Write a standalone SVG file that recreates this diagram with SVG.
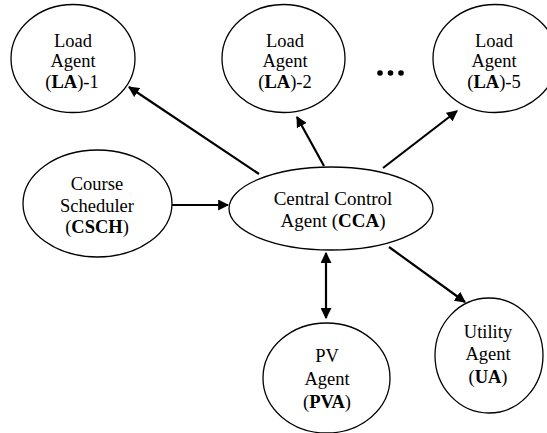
<svg xmlns="http://www.w3.org/2000/svg" width="547" height="433" viewBox="0 0 547 433">
<style>
.n{fill:#fff;stroke:#000;stroke-width:1.3}
.t{font-family:"Liberation Serif",serif;font-size:18.5px;fill:#000;text-anchor:middle}
.b{font-weight:bold}
.c{stroke:#000;stroke-width:2.2;fill:none;marker-end:url(#ah)}
</style>
<defs>
<marker id="ah" viewBox="0 0 10 10" refX="9" refY="5" markerWidth="5" markerHeight="5" orient="auto-start-reverse" markerUnits="strokeWidth">
<path d="M0,0 L10,5 L0,10 z" fill="#000"/>
</marker>
</defs>
<rect width="547" height="433" fill="#fff"/>
<g id="connectors">
<line class="c" x1="259" y1="174" x2="129" y2="87"/>
<line class="c" x1="324" y1="166" x2="297" y2="117"/>
<line class="c" x1="383" y1="168" x2="457" y2="111"/>
<line class="c" x1="172" y1="205" x2="228" y2="205"/>
<line class="c" x1="326" y1="253" x2="326" y2="318" marker-start="url(#ah)"/>
<line class="c" x1="389" y1="247" x2="465" y2="302"/>
</g>
<g id="la1"><ellipse class="n" cx="73" cy="58.5" rx="62" ry="54"/>
<text class="t" x="73" y="47">Load</text><text class="t" x="73" y="67">Agent</text><text class="t" x="72" y="88">(<tspan class="b">LA</tspan>)-1</text></g>
<g id="la2"><ellipse class="n" cx="283.5" cy="58.5" rx="61.5" ry="54"/>
<text class="t" x="285" y="47">Load</text><text class="t" x="285" y="67">Agent</text><text class="t" x="285" y="88">(<tspan class="b">LA</tspan>)-2</text></g>
<g id="dots"><circle cx="380" cy="73" r="2.8"/><circle cx="390.5" cy="73" r="2.8"/><circle cx="401" cy="73" r="2.8"/></g>
<g id="la5"><ellipse class="n" cx="495" cy="58.5" rx="62" ry="54"/>
<text class="t" x="494" y="47">Load</text><text class="t" x="494" y="67">Agent</text><text class="t" x="494" y="88">(<tspan class="b">LA</tspan>)-5</text></g>
<g id="csch"><ellipse class="n" cx="97.5" cy="203.5" rx="74.5" ry="53.5"/>
<text class="t" x="97" y="190">Course</text><text class="t" x="97" y="212">Scheduler</text><text class="t" x="97" y="233">(<tspan class="b">CSCH</tspan>)</text></g>
<g id="cca"><ellipse class="n" cx="331" cy="208.5" rx="102" ry="41.5"/>
<text class="t" x="333" y="205" style="font-size:19px">Central Control</text><text class="t" x="333" y="227" style="font-size:19px">Agent (<tspan class="b">CCA</tspan>)</text></g>
<g id="pva"><ellipse class="n" cx="326.5" cy="378" rx="63.5" ry="55"/>
<text class="t" x="327" y="362">PV</text><text class="t" x="327" y="385">Agent</text><text class="t" x="327" y="408">(<tspan class="b">PVA</tspan>)</text></g>
<g id="ua"><ellipse class="n" cx="489" cy="355.5" rx="54" ry="57.5"/>
<text class="t" x="488" y="338">Utility</text><text class="t" x="488" y="360">Agent</text><text class="t" x="488" y="383">(<tspan class="b">UA</tspan>)</text></g>
</svg>
